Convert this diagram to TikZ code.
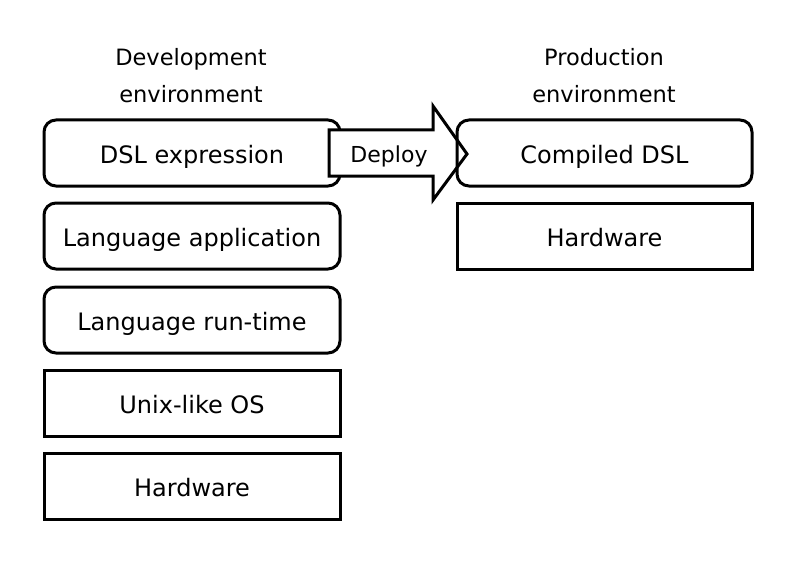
\documentclass[tikz,border=0pt]{standalone}
\usepackage{fontspec}
\setmainfont{DejaVu Sans}
\begin{document}
\begin{tikzpicture}[x=1pt,y=-1pt,
  layer/.style={draw=black,line width=3pt,minimum width=296pt,minimum height=66pt,inner sep=0pt,text height=20pt,text depth=0pt,font=\fontsize{24}{28}\selectfont},
  softlayer/.style={layer,rounded corners=12pt},
  title/.style={align=center,font=\fontsize{22.5}{37}\selectfont},
  arrowshape/.style={draw=black,fill=white,line width=3pt,line join=miter}]
\useasboundingbox (0,0) rectangle (800,567);
\node[title] (devt) at (191,76) {Development\\environment};
\node[title] (prodt) at (604,76) {Production\\environment};
\node[softlayer] (dsl) at (192,153) {DSL expression};
\node[softlayer] (app) at (192,236) {Language application};
\node[softlayer] (rt) at (192,320) {Language run-time};
\node[layer] (os) at (192,403.5) {Unix-like OS};
\node[layer] (hw) at (192,486) {Hardware};
\coordinate (a1) at (329,130);
\coordinate (a2) at (433,130);
\coordinate (a3) at (433,106);
\coordinate (a4) at (467,154);
\coordinate (a5) at (433,200);
\coordinate (a6) at (433,176);
\coordinate (a7) at (329,176);
\draw[arrowshape] (a1) -- (a2) -- (a3) -- (a4) -- (a5) -- (a6) -- (a7) -- cycle;
\node[font=\fontsize{22}{26}\selectfont,inner sep=0pt,text height=18pt,text depth=0pt] (deploy) at (389,153) {Deploy};
\node[softlayer,minimum width=295pt] (cdsl) at (604.5,153) {Compiled DSL};
\node[layer,minimum width=295pt] (phw) at (604.5,236) {Hardware};
\end{tikzpicture}
\end{document}
